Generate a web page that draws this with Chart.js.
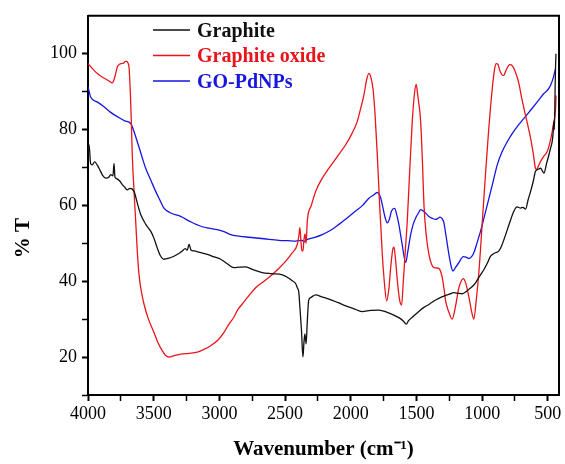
<!DOCTYPE html>
<html><head><meta charset="utf-8">
<script src="https://cdn.jsdelivr.net/npm/chart.js@4.4.1/dist/chart.umd.min.js"></script>
<style>html,body{margin:0;background:#fff}#wrap{width:565px;height:464px}</style>
</head><body><div id="wrap"><canvas id="c"></canvas></div>
<script>
'use strict';

/* ═══════════ DATA ═══════════ */
var NAMES=['Graphite','Graphite oxide','GO-PdNPs'];
var COLS=['#111111','#e8151b','#1616e0'];
/* [wavenumber, %T] */
var graphite=[[4000,73.5],[3992,76],[3980,71],[3967,70.7],[3950,71.5],[3916,69.8],[3890,68],[3865,67.2],[3840,67.5],[3827,68.1],[3810,67.8],[3802,71.1],[3795,67.5],[3789,67.2],[3760,66.5],[3739,65.5],[3720,64.8],[3701,64.1],[3680,64.5],[3650,63.7],[3620,60],[3599,57.6],[3560,55],[3523,53.2],[3500,51.5],[3473,48.8],[3450,46.8],[3422,45.8],[3390,46],[3346,46.6],[3300,47.5],[3282,48],[3260,48.6],[3245,48.2],[3231,49.7],[3215,48.2],[3193,48],[3150,47.6],[3092,47.1],[3040,46.4],[2990,45.8],[2940,44.6],[2889,43.6],[2850,43.7],[2800,43.8],[2740,43],[2674,42.3],[2600,42],[2521,41.7],[2480,41],[2445,40.1],[2420,39.4],[2407,38.3],[2395,37],[2389,34],[2375,27],[2364,20],[2356,24],[2349,26.1],[2340,23.5],[2330,30],[2320,35],[2305,35.7],[2267,36.4],[2220,35.9],[2166,35.3],[2100,34.4],[2039,33.5],[1980,32.8],[1913,32],[1850,32.3],[1785,32.4],[1722,31.8],[1680,31.2],[1634,30.4],[1600,29.5],[1578,28.7],[1560,29.6],[1519,30.9],[1480,32.1],[1443,33.1],[1400,34],[1367,34.8],[1330,35.5],[1291,36.1],[1250,36.6],[1215,37],[1180,36.8],[1151,36.7],[1120,37.3],[1100,37.9],[1075,38.6],[1050,39.6],[1020,41.3],[986,43.1],[960,44.8],[936,46.6],[900,47.5],[872,48],[850,49.5],[821,52.3],[790,55.5],[758,58.5],[735,59.6],[707,59.3],[690,59.5],[669,59],[650,61.5],[631,63.7],[610,66.5],[594,69],[575,69.5],[555,69.8],[540,69],[530,68.5],[510,71],[492,73.3],[480,75],[467,76.8],[460,79],[454,82.1],[450,80],[445,90],[441,97],[438,100]];
var oxide=[[4000,97.4],[3960,95.8],[3920,94.5],[3880,93.6],[3840,92.8],[3815,92.3],[3795,94],[3777,96.5],[3760,97.2],[3747,97.4],[3730,97.5],[3715,98],[3706,98],[3695,97.5],[3688,96.5],[3678,90],[3670,82],[3663,73.3],[3650,64],[3637,55.8],[3625,48],[3612,41.8],[3595,37.5],[3574,34],[3540,30],[3498,26.5],[3470,24],[3435,21.7],[3410,20.5],[3384,20],[3350,20.3],[3295,20.8],[3230,21],[3168,21.3],[3120,22],[3066,23],[3010,24.5],[2965,26.5],[2927,28.7],[2890,30.5],[2860,32.5],[2826,34],[2780,36],[2724,38.3],[2660,40],[2597,41.8],[2550,43.3],[2495,45.3],[2450,47.3],[2407,49.7],[2395,52],[2387,54.1],[2380,51],[2372,48],[2364,48.1],[2356,51],[2348,52.5],[2340,50],[2331,55.8],[2300,60],[2267,63.7],[2220,67],[2166,69.8],[2100,73],[2039,76],[1990,79],[1951,82.1],[1925,85.5],[1900,89.1],[1880,93],[1862,94.8],[1845,93.5],[1831,90.8],[1815,84],[1798,73.3],[1780,60],[1760,47.1],[1745,40],[1727,34.8],[1710,38],[1695,44],[1680,48.5],[1671,49],[1660,46],[1645,40],[1628,35],[1613,33.7],[1600,40],[1585,48],[1570,55.8],[1550,70],[1532,82.1],[1515,89.5],[1502,91.9],[1490,89],[1468,82.1],[1455,72],[1443,60.2],[1425,52],[1405,47.1],[1385,44.5],[1367,43.6],[1345,43.5],[1329,43.4],[1315,42.5],[1304,41],[1290,38],[1278,34.8],[1255,32],[1228,30],[1205,33],[1177,38.3],[1160,40],[1144,40.7],[1125,39.5],[1100,35.7],[1080,32],[1063,30],[1045,35],[1024,42.7],[1000,55],[973,69],[950,80],[923,90.8],[905,96],[893,97.4],[880,97.2],[865,95.5],[850,94.5],[834,94.3],[820,95.5],[800,96.8],[789,97.1],[770,96.8],[758,96.1],[740,94.5],[720,92.1],[700,88.5],[682,85.6],[655,81.5],[631,77.7],[610,73.5],[594,69.8],[585,69.5],[570,70.5],[555,71.6],[530,73],[505,74.2],[485,76.5],[467,79.4],[455,82],[441,85.6],[438,89]];
var goPd=[[4000,91.3],[3980,88.6],[3930,87.3],[3878,86],[3830,84.6],[3777,83.4],[3720,82.3],[3675,81.6],[3650,79.5],[3625,76.8],[3595,73.5],[3561,69.8],[3520,66.5],[3485,63.7],[3450,61.2],[3422,59.3],[3370,58],[3295,57.1],[3220,55.7],[3142,54.5],[3080,54],[3016,53.6],[2960,53],[2914,52.3],[2850,51.9],[2775,51.6],[2660,51.2],[2546,50.8],[2480,50.7],[2419,50.6],[2370,50.8],[2356,50.4],[2340,50.9],[2280,51.5],[2217,52.3],[2150,53.5],[2090,55],[2030,56.6],[1963,58.5],[1910,60],[1862,61.9],[1823,62.8],[1800,63.4],[1785,63],[1772,62],[1760,60.2],[1740,57],[1722,55.4],[1705,56.5],[1690,58.5],[1666,59.2],[1650,57.5],[1634,55],[1610,50],[1582,44.9],[1565,48],[1544,52.3],[1525,55],[1506,56.7],[1485,58],[1468,58.9],[1440,58.3],[1405,57.1],[1380,56.6],[1354,56.3],[1335,56.6],[1321,56.9],[1305,56.5],[1291,55.4],[1275,52],[1253,47.1],[1235,43.8],[1222,42.7],[1200,43.8],[1177,44.9],[1160,45.9],[1144,46.5],[1120,46.3],[1100,46],[1080,46.5],[1063,47.5],[1040,50],[1012,53.2],[980,57.5],[948,61.9],[915,66.5],[885,70.7],[850,74],[809,76.8],[770,79],[733,80.8],[680,83],[631,85.1],[580,87.3],[530,89.5],[500,90.5],[479,91.7],[460,93.5],[441,96.1]];
var X_LABELS=[4000,3500,3000,2500,2000,1500,1000,500];
var Y_LABELS=[20,40,60,80,100];

/* ═══════════ HELPERS ═══════════ */
var SERIF='"Liberation Serif","Times New Roman",serif';
function pts(a){return a.map(function(p){return{x:p[0],y:p[1]}})}
function ds(i,a){return{label:NAMES[i],data:pts(a),borderColor:COLS[i],borderWidth:1.3,pointRadius:0,fill:false,cubicInterpolationMode:'monotone'}}

/* frame top/right, legend inside the plot, y title */
var decor={id:'decor',afterDraw:function(chart){var c=chart.ctx,a=chart.chartArea;c.save();
  c.strokeStyle='#000';c.lineWidth=2;c.beginPath();c.moveTo(a.left,a.top);c.lineTo(a.right,a.top);c.lineTo(a.right,a.bottom);c.stroke();
  c.font='bold 20px '+SERIF;c.textBaseline='alphabetic';c.textAlign='left';
  chart.data.datasets.forEach(function(d,i){var y=30+i*25.5;
    c.strokeStyle=d.borderColor;c.lineWidth=1.3;c.beginPath();c.moveTo(153,y);c.lineTo(190,y);c.stroke();
    c.fillStyle=d.borderColor;c.fillText(d.label,197,y+6.5)});
  c.font='bold 21px '+SERIF;c.fillStyle='#000';c.translate(24,238);c.rotate(-Math.PI/2);c.textAlign='center';c.textBaseline='middle';c.fillText('% T',0,0);
  c.restore()}};

/* ═══════════ CHART ═══════════ */
new Chart(document.getElementById('c'),{type:'line',
  data:{datasets:[ds(0,graphite),ds(1,oxide),ds(2,goPd)]},
  options:{responsive:true,maintainAspectRatio:false,animation:false,
    layout:{padding:{top:14,right:6,left:0,bottom:0}},
    plugins:{legend:{display:false},tooltip:{enabled:false}},
    scales:{
      x:{type:'linear',reverse:true,min:415,max:4000,
        afterFit:function(s){s.height=69},
        border:{display:true,color:'#000',width:2},
        grid:{drawOnChartArea:false,drawTicks:true,tickLength:6,tickColor:'#000',tickWidth:function(c){return X_LABELS.indexOf(c.tick.value)>=0?2:1.5}},
        ticks:{stepSize:250,includeBounds:false,autoSkip:false,maxRotation:0,padding:2,color:'#000',font:{family:SERIF,size:18},
          callback:function(v){return X_LABELS.indexOf(v)>=0?String(v):''}},
        title:{display:true,text:'Wavenumber (cm\u207B\u00B9)',color:'#000',font:{family:SERIF,size:21,weight:'bold'},padding:{top:0,bottom:2}}},
      y:{min:10,max:110,
        afterFit:function(s){s.width=88},
        border:{display:true,color:'#000',width:2},
        grid:{drawOnChartArea:false,drawTicks:true,tickLength:6,
          tickColor:function(c){return c.tick.value>100?'rgba(0,0,0,0)':'#000'},
          tickWidth:function(c){return Y_LABELS.indexOf(c.tick.value)>=0?2:1.5}},
        ticks:{stepSize:10,autoSkip:false,padding:5,color:'#000',font:{family:SERIF,size:18},
          callback:function(v){return Y_LABELS.indexOf(v)>=0?String(v):''}}}
    }},
  plugins:[decor]});
</script></body></html>
